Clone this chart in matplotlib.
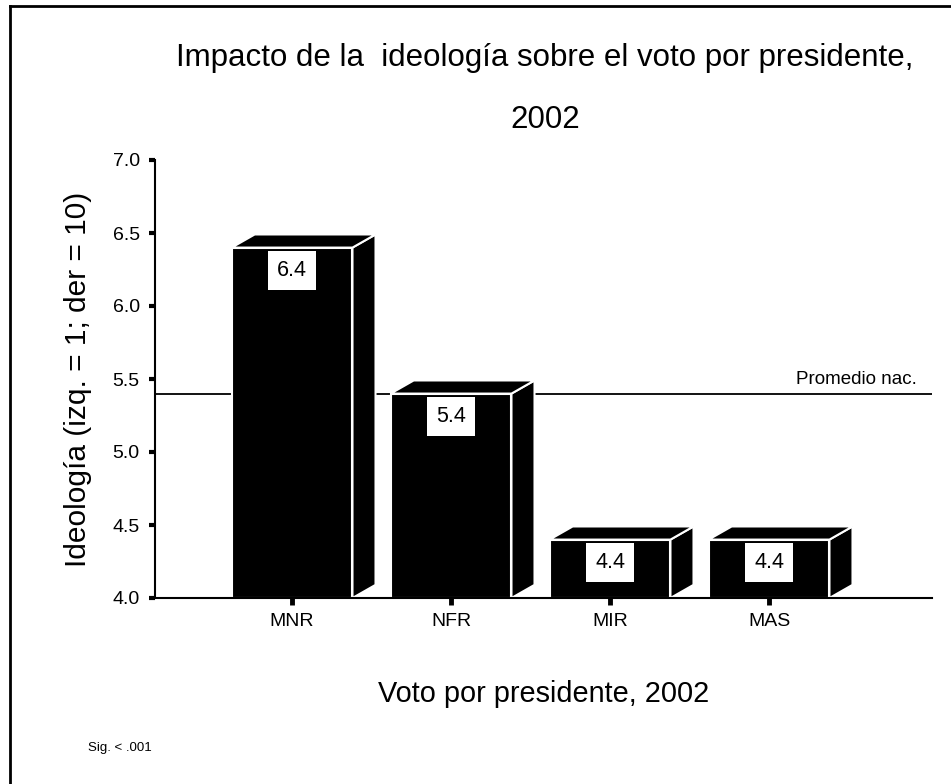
import matplotlib
matplotlib.use('Agg')
import matplotlib.pyplot as plt
from matplotlib.patches import Polygon, Rectangle
from matplotlib.lines import Line2D

plt.rcParams['font.family'] = ['Liberation Sans', 'DejaVu Sans']

partidos = ['MNR', 'NFR', 'MIR', 'MAS']
ideologia = [6.4, 5.4, 4.4, 4.4]
etiquetas = ['6.4', '5.4', '4.4', '4.4']
promedio = 5.4
yticks = [4.0, 4.5, 5.0, 5.5, 6.0, 6.5, 7.0]

fig = plt.figure(figsize=(9.51, 7.84), dpi=100)
ax = fig.add_axes([155 / 951, 1 - 598 / 784, (932 - 155) / 951, (598 - 160) / 784])

ancho = 0.76
dx = 0.145   # profundidad del efecto 3D
dy = 0.09
base = 4.0

ax.axhline(promedio, color='black', lw=1.3, zorder=1)
ax.text(3.93, promedio + 0.04, 'Promedio nac.', ha='right', va='bottom', fontsize=13.5)

for i, v in enumerate(ideologia):
    x0 = i - ancho / 2
    x1 = i + ancho / 2
    lado = Polygon([(x1, base), (x1 + dx, base + dy), (x1 + dx, v + dy), (x1, v)],
                   closed=True, facecolor='black', edgecolor='white', lw=1.5, zorder=3)
    arriba = Polygon([(x0, v), (x0 + dx, v + dy), (x1 + dx, v + dy), (x1, v)],
                     closed=True, facecolor='black', edgecolor='white', lw=1.5, zorder=3)
    frente = Rectangle((x0, base), ancho, v - base, facecolor='black', edgecolor='white',
                       lw=1.5, zorder=4)
    ax.add_patch(lado)
    ax.add_patch(arriba)
    ax.add_patch(frente)
    ax.annotate(etiquetas[i], xy=(i, v), xytext=(0, -9), textcoords='offset points',
                ha='center', va='top', fontsize=15.5, zorder=6,
                bbox=dict(boxstyle='square,pad=0.4', facecolor='white', edgecolor='none'))

ax.set_xlim(-0.862, 4.025)
ax.set_ylim(4.0, 7.0)
ax.set_yticks(yticks)
ax.set_yticklabels(['%.1f' % t for t in yticks], fontsize=14)
ax.set_xticks(range(len(partidos)))
ax.set_xticklabels(partidos, fontsize=14)
ax.tick_params(axis='y', direction='out', length=4, width=3, pad=7)
ax.tick_params(axis='x', direction='out', length=5, width=3.5, pad=6)

for s in ['top', 'right']:
    ax.spines[s].set_visible(False)
for s in ['left', 'bottom']:
    ax.spines[s].set_linewidth(1.5)
    ax.spines[s].set_zorder(5)

ax.set_ylabel('Ideología (izq. = 1; der = 10)', fontsize=21.5, labelpad=15)
ax.set_xlabel('Voto por presidente, 2002', fontsize=20.8, labelpad=36)

fig.text(545 / 951, 1 - 58 / 784, 'Impacto de la  ideología sobre el voto por presidente,',
         ha='center', va='center', fontsize=22.5)
fig.text(545 / 951, 1 - 120 / 784, '2002', ha='center', va='center', fontsize=22.5)
fig.text(88 / 951, 1 - 748 / 784, 'Sig. < .001', ha='left', va='center', fontsize=9.5)

# marco de la figura (solo se ven los bordes superior e izquierdo)
fig.add_artist(Line2D([10 / 951, 10 / 951], [0, 1 - 6 / 784], color='black', lw=2))
fig.add_artist(Line2D([10 / 951, 1], [1 - 6 / 784, 1 - 6 / 784], color='black', lw=2))

fig.savefig('out.png', dpi=100)
